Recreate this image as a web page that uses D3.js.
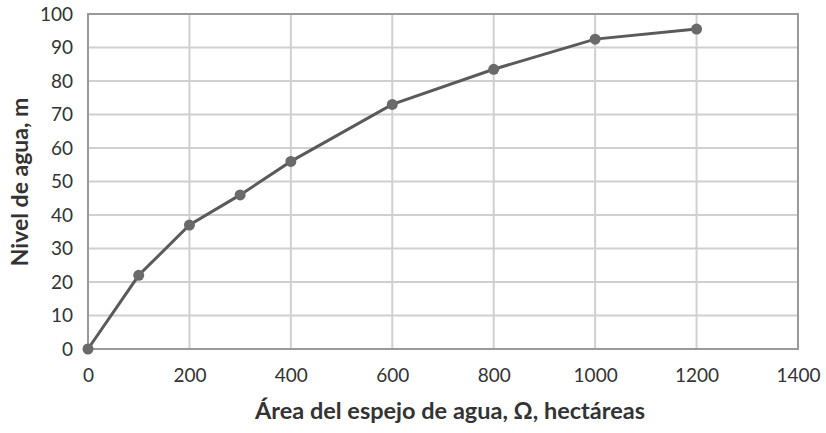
<!DOCTYPE html>
<html><head><meta charset="utf-8">
<script src="https://cdn.jsdelivr.net/npm/d3@7"></script>
<style>body{margin:0;background:#fff;} text{font-family:Lato,"Open Sans",sans-serif;}</style>
</head><body>
<svg id="c" width="826" height="433"></svg>
<script>
const areas = [0, 100, 200, 300, 400, 600, 800, 1000, 1200];
const levels = [0, 22, 37, 46, 56, 73, 83.5, 92.5, 95.5];
const xTicks = [0, 200, 400, 600, 800, 1000, 1200, 1400];
const yTicks = [0, 10, 20, 30, 40, 50, 60, 70, 80, 90, 100];
const xTitle = "Área del espejo de agua, Ω, hectáreas";
const yTitle = "Nivel de agua, m";

const svg = d3.select("#c");
const m = {l:88, t:14, r:798, b:349};
const x = d3.scaleLinear().domain([0,1400]).range([m.l, m.r]);
const y = d3.scaleLinear().domain([0,100]).range([m.b, m.t]);

const g = svg.append("g");
g.selectAll(".vg").data(xTicks).join("line")
  .attr("x1", d=>x(d)).attr("x2", d=>x(d)).attr("y1", m.t).attr("y2", m.b)
  .attr("stroke", "#d0d0d0").attr("stroke-width", 2);
g.selectAll(".hg").data(yTicks).join("line")
  .attr("x1", m.l).attr("x2", m.r).attr("y1", d=>y(d)).attr("y2", d=>y(d))
  .attr("stroke", "#d0d0d0").attr("stroke-width", 2);
g.append("rect").attr("x", m.l).attr("y", m.t).attr("width", m.r-m.l).attr("height", m.b-m.t)
  .attr("fill","none").attr("stroke","#9a9a9a").attr("stroke-width",2);

const xa = svg.append("g").attr("transform", `translate(0,${m.b})`)
  .call(d3.axisBottom(x).tickValues(xTicks).tickSize(0).tickPadding(20).tickFormat(d3.format("d")));
xa.select(".domain").remove();
xa.selectAll("text").attr("font-size", 19).attr("fill", "#333").attr("font-family","Lato,'Open Sans',sans-serif");
const ya = svg.append("g").attr("transform", `translate(${m.l},0)`)
  .call(d3.axisLeft(y).tickValues(yTicks).tickSize(0).tickPadding(15).tickFormat(d3.format("d")));
ya.select(".domain").remove();
ya.selectAll("text").attr("font-size", 19).attr("fill", "#333").attr("font-family","Lato,'Open Sans',sans-serif");

const data = areas.map((a,i)=>({a, v: levels[i]}));
svg.append("path").datum(data)
  .attr("d", d3.line().x(d=>x(d.a)).y(d=>y(d.v)))
  .attr("fill","none").attr("stroke","#5a5a5a").attr("stroke-width",3);
svg.selectAll(".pt").data(data).join("circle")
  .attr("cx", d=>x(d.a)).attr("cy", d=>y(d.v)).attr("r", 5.5)
  .attr("fill","#6a6a6a");

svg.append("text").attr("x", 450).attr("y", 419).attr("text-anchor","middle")
  .attr("font-size", 23.5).attr("font-weight","bold").attr("fill","#333").text(xTitle);
svg.append("text").attr("transform", "translate(28,182) rotate(-90)").attr("text-anchor","middle")
  .attr("font-size", 23).attr("font-weight","bold").attr("fill","#333").text(yTitle);
</script>
</body></html>
